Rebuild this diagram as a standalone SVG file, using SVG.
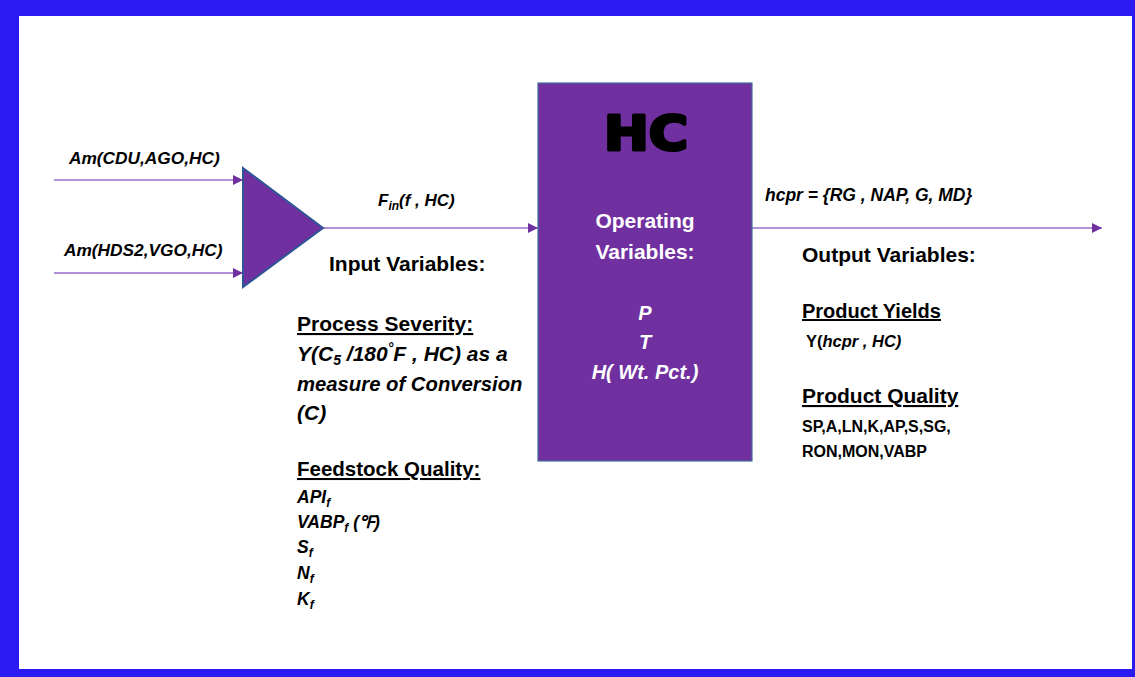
<svg xmlns="http://www.w3.org/2000/svg" width="1135" height="677" viewBox="0 0 1135 677">
  <style>
    .t { font-family: "Liberation Sans", Arial, sans-serif; font-weight: bold; fill: #000; }
    .i { font-style: italic; }
    .u { text-decoration: underline; }
    .w { fill: #fff; }
    .flow { stroke: #9A6CC8; stroke-width: 1.6; fill: none; marker-end: url(#head); }
  </style>
  <defs>
    <marker id="head" viewBox="0 0 10 10" refX="10" refY="5" markerUnits="userSpaceOnUse" markerWidth="11" markerHeight="10" orient="auto">
      <path d="M0,0 L10,5 L0,10 Z" fill="#7030A0"/>
    </marker>
  </defs>

  <!-- frame -->
  <rect x="0" y="0" width="1135" height="677" fill="#2B1AF2"/>
  <rect x="19" y="16" width="1113" height="653" fill="#fff"/>

  <!-- connectors -->
  <g id="connectors">
    <line class="flow" x1="54" y1="180" x2="243" y2="180"/>
    <line class="flow" x1="54" y1="273" x2="243" y2="273"/>
    <line class="flow" x1="323" y1="228" x2="538" y2="228"/>
    <line class="flow" x1="752" y1="228" x2="1102" y2="228"/>
  </g>

  <!-- mixer -->
  <g id="mixer">
    <polygon points="243,168 323,228 243,287" fill="#7030A0" stroke="#2F5597" stroke-width="2"/>
  </g>

  <!-- hydrocracker unit -->
  <g id="hc-unit">
    <rect x="538" y="83" width="214" height="378" fill="#7030A0" stroke="#41719C" stroke-width="1.2"/>
    <text x="646" y="150" text-anchor="middle" style="font-family:'DejaVu Sans',sans-serif;font-weight:bold" font-size="48" fill="#000" stroke="#000" stroke-width="3.2" stroke-linejoin="round" textLength="84" lengthAdjust="spacingAndGlyphs">HC</text>
    <text class="t w" x="645" y="228" text-anchor="middle" font-size="21">Operating</text>
    <text class="t w" x="645" y="259" text-anchor="middle" font-size="21">Variables:</text>
    <text class="t i w" x="645" y="320" text-anchor="middle" font-size="20">P</text>
    <text class="t i w" x="645" y="349" text-anchor="middle" font-size="20">T</text>
    <text class="t i w" x="645" y="379" text-anchor="middle" font-size="20">H( Wt. Pct.)</text>
  </g>

  <!-- input streams -->
  <g id="input-streams">
    <text class="t i" x="69" y="164" font-size="17.3">Am(CDU,AGO,HC)</text>
    <text class="t i" x="64" y="256" font-size="17.3">Am(HDS2,VGO,HC)</text>
  </g>

  <!-- combined feed -->
  <g id="feed-label">
    <text class="t i" x="378" y="206" font-size="17">F<tspan font-size="12" dy="4">in</tspan><tspan dy="-4">(f , HC)</tspan></text>
  </g>

  <!-- input variables -->
  <g id="input-variables">
    <text class="t" x="329" y="271" font-size="21">Input Variables:</text>
    <text class="t u" x="297" y="331" font-size="21">Process Severity:</text>
    <text class="t i" x="297" y="361" font-size="21">Y(C<tspan font-size="14" dy="4">5</tspan><tspan dy="-4"> /180</tspan><tspan font-size="14" dy="-8">°</tspan><tspan dy="8">F , HC) as a</tspan></text>
    <text class="t i" x="297" y="391" font-size="20.3">measure of Conversion</text>
    <text class="t i" x="297" y="420" font-size="21">(C)</text>
    <text class="t u" x="297" y="476" font-size="20.5">Feedstock Quality:</text>
    <text class="t i" x="297" y="503" font-size="17.5">API<tspan font-size="12" dy="4">f</tspan></text>
    <text class="t i" x="297" y="528" font-size="17.5">VABP<tspan font-size="12" dy="4">f</tspan><tspan dy="-4">  (℉)</tspan></text>
    <text class="t i" x="297" y="553" font-size="17.5">S<tspan font-size="12" dy="4">f</tspan></text>
    <text class="t i" x="297" y="579" font-size="17.5">N<tspan font-size="12" dy="4">f</tspan></text>
    <text class="t i" x="297" y="605" font-size="17.5">K<tspan font-size="12" dy="4">f</tspan></text>
  </g>

  <!-- products -->
  <g id="product-label">
    <text class="t i" x="765" y="201" font-size="17.5">hcpr = {RG , NAP, G, MD}</text>
  </g>

  <!-- output variables -->
  <g id="output-variables">
    <text class="t" x="802" y="262" font-size="21">Output Variables:</text>
    <text class="t u" x="802" y="318" font-size="20">Product Yields</text>
    <text class="t" x="806" y="347" font-size="16.5">Y(<tspan class="i">hcpr , HC)</tspan></text>
    <text class="t u" x="802" y="403" font-size="21">Product Quality</text>
    <text class="t" x="802" y="432" font-size="16">SP,A,LN,K,AP,S,SG,</text>
    <text class="t" x="802" y="457" font-size="16">RON,MON,VABP</text>
  </g>
</svg>
